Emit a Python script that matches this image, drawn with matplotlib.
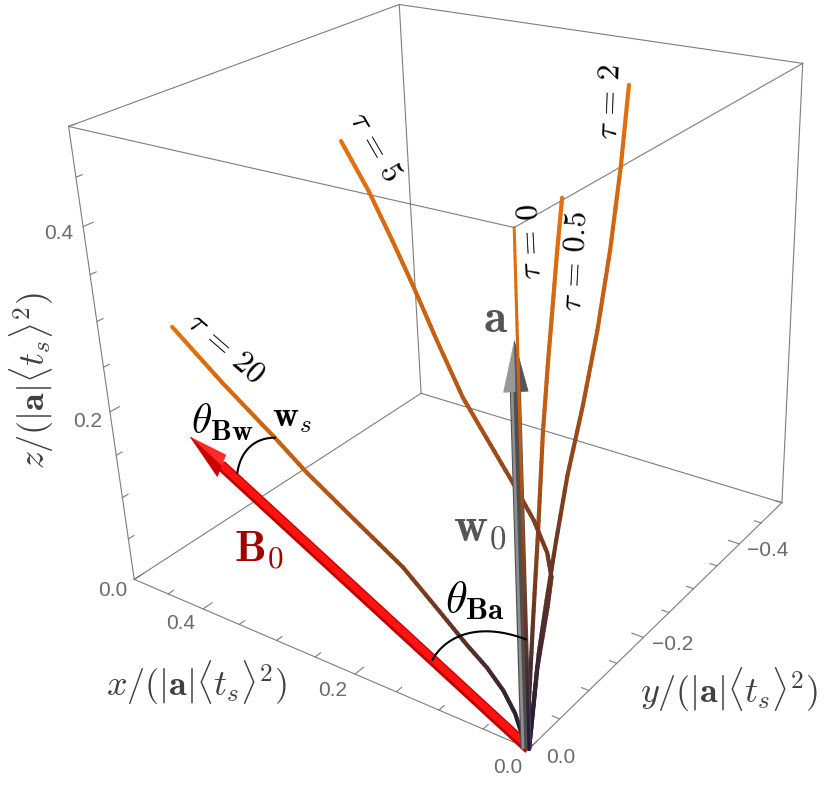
import numpy as np
import matplotlib
matplotlib.use('Agg')
import matplotlib.pyplot as plt
from matplotlib.colors import LinearSegmentedColormap
from mpl_toolkits.mplot3d import proj3d
from mpl_toolkits.mplot3d.art3d import Line3DCollection, Poly3DCollection

plt.rcParams['mathtext.fontset'] = 'cm'

# trajectories (x, y, z) in units of |a|<t_s>^2
traj_tau0 = np.array([[0.000, 0.000, 0.000], [0.000, 0.000, 0.500]])
traj_tau05 = np.array([[0, 0, 0], [0.000, -0.002, 0.052], [0.001, -0.013, 0.130], [0.001, -0.024, 0.215],
                       [0.002, -0.036, 0.304], [0.002, -0.046, 0.367], [0.002, -0.053, 0.406],
                       [0.003, -0.063, 0.454], [0.003, -0.072, 0.500]])
traj_tau2 = np.array([[0, 0, 0], [0.007, -0.019, 0.033], [0.016, -0.042, 0.070], [0.025, -0.070, 0.109],
                      [0.034, -0.101, 0.153], [0.045, -0.138, 0.199], [0.056, -0.183, 0.249],
                      [0.068, -0.228, 0.304], [0.082, -0.274, 0.366], [0.097, -0.318, 0.432],
                      [0.112, -0.358, 0.500]])
traj_tau5 = np.array([[0, 0, 0], [0.023, -0.049, 0.046], [0.041, -0.095, 0.081], [0.050, -0.116, 0.099],
                      [0.059, -0.123, 0.119], [0.074, -0.124, 0.149], [0.093, -0.119, 0.186],
                      [0.118, -0.110, 0.236], [0.135, -0.104, 0.270], [0.161, -0.103, 0.322],
                      [0.185, -0.103, 0.371], [0.205, -0.102, 0.411], [0.226, -0.099, 0.455],
                      [0.249, -0.093, 0.500]])
traj_tau20 = np.array([[0, 0, 0], [0.007, 0, 0.012], [0.014, 0, 0.033], [0.026, 0, 0.053],
                       [0.043, 0, 0.071], [0.064, 0, 0.087], [0.093, 0, 0.112], [0.132, 0, 0.145],
                       [0.185, 0, 0.177], [0.239, 0, 0.210], [0.275, 0, 0.236], [0.336, 0, 0.277],
                       [0.394, 0, 0.320]])

B0_vec = np.array([0.388, 0.0, 0.204])      # magnetic field direction arrow
a_vec = np.array([0.0, 0.0, 0.404])         # acceleration / w0 arrow
arc_Ba_radius = 0.118
arc_Bw_center = np.array([0.2535, 0.0, 0.1605])
arc_Bw_radius = 0.0785
arc_Bw_angles = [15.9, 74.1]

xlim = [0.0, 0.5]
ylim = [-0.5, 0.0]
zlim = [0.0, 0.5]
x_ticks = [0.0, 0.2, 0.4]
y_ticks = [0.0, -0.2, -0.4]
z_ticks = [0.0, 0.2, 0.4]
minor_step = 0.05

ELEV, AZIM, ROLL, FOCAL = 25.143, 127.255, 2.604, 0.378

fig = plt.figure(figsize=(8.3, 7.88), dpi=100)
ax = fig.add_axes([0.03764, 0.04087, 0.99700, 1.05014], projection='3d', computed_zorder=False)
ax.set_xlim(xlim)
ax.set_ylim(ylim)
ax.set_zlim(zlim)
ax.set_box_aspect((1, 0.9984, 0.9968))
ax.set_proj_type('persp', focal_length=FOCAL)
ax.view_init(ELEV, AZIM, ROLL)
ax.set_axis_off()


def text_rot(x, y, z, s, rot, **kw):
    # 3D anchor, but rotated in screen space
    xs, ys, _ = proj3d.proj_transform(x, y, z, ax.get_proj())
    ax.text2D(float(xs), float(ys), s, rotation=rot, rotation_mode='anchor',
              transform=ax.transData, **kw)


# bounding box
corners = np.array([[x, y, z] for x in xlim for y in ylim for z in zlim])
for i in range(8):
    for j in range(i + 1, 8):
        if np.sum(corners[i] != corners[j]) == 1:
            ax.plot(*zip(corners[i], corners[j]), color='#7d7d7d', lw=0.8, zorder=1)

# ticks, pointing into the box
def tick_len(v):
    return 0.013 if abs(v / 0.2 - round(v / 0.2)) < 1e-6 else 0.008

for v in np.arange(xlim[0], xlim[1] + 1e-9, minor_step):
    ax.plot([v, v], [0, -tick_len(v)], [0, 0], color='#7d7d7d', lw=0.8, zorder=1)
for v in np.arange(ylim[1], ylim[0] - 1e-9, -minor_step):
    ax.plot([0, tick_len(v)], [v, v], [0, 0], color='#7d7d7d', lw=0.8, zorder=1)
for v in np.arange(zlim[0], zlim[1] + 1e-9, minor_step):
    ax.plot([0.5, 0.5], [0, -tick_len(v)], [v, v], color='#7d7d7d', lw=0.8, zorder=1)

tick_kw = dict(color='#6b6b6b', fontsize=15, family='Liberation Sans', ha='center', va='center')
for v in x_ticks:
    ax.text(v + 0.002, 0.031, 0, '%.1f' % v, **tick_kw)
for v in y_ticks:
    ax.text(-0.030, v - 0.005, 0, ('%.1f' % v).replace('-', '\u2212'), **tick_kw)
for v in z_ticks:
    ax.text(0.5, 0.030, v + 0.003, '%.1f' % v, **tick_kw)

lab_kw = dict(color='#404040', fontsize=26, ha='center', va='center')
ax.text(0.319, 0.094, 0, r'$x/(|\mathbf{a}|\langle t_s\rangle^2)$', **lab_kw)
ax.text(-0.108, -0.171, 0, r'$y/(|\mathbf{a}|\langle t_s\rangle^2)$', **lab_kw)
text_rot(0.5, 0.088, 0.273, r'$z/(|\mathbf{a}|\langle t_s\rangle^2)$', 90, **lab_kw)

# trajectories with a dark-to-orange gradient along the path
cmap = LinearSegmentedColormap.from_list(
    'traj', [(0.0, '#1c1a3e'), (0.1, '#382333'), (0.25, '#643424'), (0.45, '#964819'),
             (0.65, '#c25e15'), (0.85, '#d9690f'), (1.0, '#e4720e')])

def draw_traj(P, lw, zorder):
    P = np.asarray(P, float)
    seg = np.linalg.norm(np.diff(P, axis=0), axis=1)
    frac = np.r_[0, np.cumsum(seg)] / seg.sum()
    nsub = max(8, 80 // (len(P) - 1))
    segs, cols = [], []
    for i in range(len(P) - 1):
        for j in range(nsub):
            a0, a1 = j / nsub, (j + 1) / nsub
            segs.append([P[i] + (P[i + 1] - P[i]) * a0, P[i] + (P[i + 1] - P[i]) * a1])
            cols.append(cmap(frac[i] + (frac[i + 1] - frac[i]) * (a0 + a1) / 2))
    ax.add_collection3d(Line3DCollection(segs, colors=cols, linewidths=lw,
                                         capstyle='round', joinstyle='round', zorder=zorder))

for P in [traj_tau05, traj_tau2, traj_tau5, traj_tau20]:
    draw_traj(P, 3.0, 2)

# B0 arrow (red)
B_len = np.linalg.norm(B0_vec)
B_dir = B0_vec / B_len
B_base = B0_vec - 0.043 * B_dir
B_perp = np.array([-B_dir[2], 0, B_dir[0]])
lift = np.array([0, 0, 0.0012])
ax.plot([0, B_base[0]], [0, 0], [0, B_base[2]], color='#c20000', lw=8, solid_capstyle='butt', zorder=3)
ax.plot([lift[0], B_base[0] + lift[0]], [0, 0], [lift[2], B_base[2] + lift[2]],
        color='#ff1212', lw=5, solid_capstyle='butt', zorder=3)
hw = 0.016
ax.add_collection3d(Poly3DCollection([[B0_vec, B_base, B_base + hw * B_perp]],
                                     facecolor='#ff2a2a', edgecolor='#ff2a2a', lw=0.5, zorder=3))
ax.add_collection3d(Poly3DCollection([[B0_vec, B_base, B_base - hw * B_perp]],
                                     facecolor='#cc0000', edgecolor='#cc0000', lw=0.5, zorder=3))

# a / w0 arrow (gray), along z
perp = np.array([np.sin(np.radians(AZIM)), -np.cos(np.radians(AZIM)), 0.0])
shift = 0.0028 * perp
a_base = a_vec - np.array([0, 0, 0.045])
ax.plot([shift[0], shift[0]], [shift[1], shift[1]], [0, a_base[2]], color='#4e4e4e', lw=8,
        solid_capstyle='butt', zorder=3)
s2 = shift + 0.0026 * perp
ax.plot([s2[0], s2[0]], [s2[1], s2[1]], [0, a_base[2]], color='#8e8e8e', lw=2.0,
        solid_capstyle='butt', zorder=3)
hw = 0.0098
tip = a_vec + shift
base = a_base + shift
ax.add_collection3d(Poly3DCollection([[tip, base, base + hw * perp]],
                                     facecolor='#989898', edgecolor='#989898', lw=0.5, zorder=3))
ax.add_collection3d(Poly3DCollection([[tip, base, base - hw * perp]],
                                     facecolor='#555555', edgecolor='#555555', lw=0.5, zorder=3))

draw_traj(traj_tau0, 2.2, 4)

# angle arcs
phi = np.radians(np.linspace(0, np.degrees(np.arctan2(B0_vec[0], B0_vec[2])), 40))
ax.plot(arc_Ba_radius * np.sin(phi), 0 * phi, arc_Ba_radius * np.cos(phi), color='black', lw=1.5, zorder=5)
psi = np.radians(np.linspace(arc_Bw_angles[0], arc_Bw_angles[1], 40))
ax.plot(arc_Bw_center[0] + arc_Bw_radius * np.cos(psi), 0 * psi,
        arc_Bw_center[2] + arc_Bw_radius * np.sin(psi), color='black', lw=1.5, zorder=5)

# annotations
tk = dict(color='black', fontsize=23, ha='center', va='center', zorder=6)
text_rot(0.132, 0, 0.543, r'$\tau\,=\,5$', -60, **tk)
text_rot(0.326, 0, 0.315, r'$\tau\,=\,20$', -41, **tk)
text_rot(0, -0.021, 0.481, r'$\tau\,=\,0$', 93, **tk)
text_rot(0, -0.084, 0.441, r'$\tau\,=\,0.5$', 87, **tk)
text_rot(0, -0.140, 0.561, r'$\tau\,=\,2$', 88, **tk)

ax.text(0.021, 0, 0.417, r'$\mathbf{a}$', color='#555555', fontsize=34, ha='center', va='center', zorder=6)
ax.text(0.045, 0, 0.215, r'$\mathbf{w}_0$', color='#555555', fontsize=34, ha='center', va='center', zorder=6)
ax.text(0.311, 0, 0.102, r'$\mathbf{B}_0$', color='#a00000', fontsize=32, ha='center', va='center', zorder=6)
ax.text(0.342, 0, 0.233, r'$\theta_{\mathbf{Bw}}$', color='black', fontsize=30, ha='center', va='center', zorder=6)
ax.text(0.251, 0, 0.263, r'$\mathbf{w}_s$', color='black', fontsize=26, ha='center', va='center', zorder=6)
ax.text(0.053, 0, 0.139, r'$\theta_{\mathbf{Ba}}$', color='black', fontsize=32, ha='center', va='center', zorder=6)

fig.savefig('out.png', dpi=100)
